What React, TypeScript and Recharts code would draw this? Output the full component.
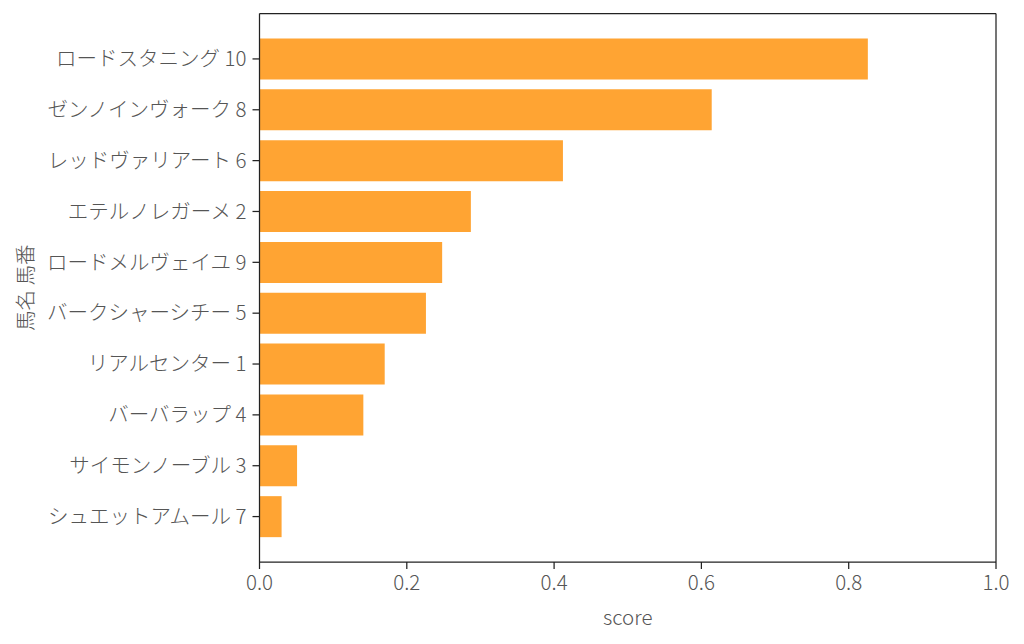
import { BarChart, Bar, XAxis, YAxis } from 'recharts';

// #region Sample data
const horseNames = [
  'ロードスタニング',
  'ゼンノインヴォーク',
  'レッドヴァリアート',
  'エテルノレガーメ',
  'ロードメルヴェイユ',
  'バークシャーシチー',
  'リアルセンター',
  'バーバラップ',
  'サイモンノーブル',
  'シュエットアムール',
];
const horseNumbers = [10, 8, 6, 2, 9, 5, 1, 4, 3, 7];
const scores = [0.826, 0.614, 0.412, 0.287, 0.248, 0.226, 0.17, 0.141, 0.051, 0.03];
const xTicks = [0, 0.2, 0.4, 0.6, 0.8, 1.0];
// #endregion

const data = horseNames.map((name, i) => ({
  label: `${name} ${horseNumbers[i]}`,
  score: scores[i],
}));

const FONT = '"Noto Sans CJK JP", "Noto Sans", sans-serif';
const tickStyle = { fill: '#555', fontSize: 20.5, fontFamily: FONT, fontWeight: 300 };
const lineStyle = { stroke: '#222', strokeWidth: 1.25 };

const YLabel = (props: any) => {
  const { viewBox } = props;
  const x = viewBox.x + 24;
  const y = viewBox.y + viewBox.height / 2;
  return (
    <text
      x={x}
      y={y}
      transform={`rotate(-90, ${x}, ${y})`}
      textAnchor="middle"
      dominantBaseline="central"
      fill="#555"
      fontSize={20.5}
      fontFamily={FONT}
      fontWeight={300}
    >
      馬名 馬番
    </text>
  );
};

export default function App() {
  return (
    <div style={{ position: 'absolute', left: 0, top: 0, background: '#fff' }}>
      <BarChart
        width={1024}
        height={644}
        data={data}
        layout="vertical"
        margin={{ top: 12.5, right: 27, left: 0, bottom: 0 }}
      >
        <XAxis
          type="number"
          dataKey="score"
          domain={[0, 1]}
          ticks={xTicks}
          tickFormatter={(v: number) => v.toFixed(1)}
          height={82}
          tick={tickStyle}
          tickSize={7}
          tickMargin={6}
          axisLine={lineStyle}
          tickLine={lineStyle}
          label={{
            value: 'score',
            position: 'insideBottom',
            offset: 19,
            fill: '#555',
            fontSize: 20.5,
            fontFamily: FONT,
            fontWeight: 300,
          }}
        />
        <XAxis
          xAxisId="top"
          orientation="top"
          type="number"
          domain={[0, 1]}
          height={1}
          tick={false}
          tickLine={false}
          axisLine={lineStyle}
        />
        <YAxis
          type="category"
          dataKey="label"
          width={259.5}
          padding={{ top: 20, bottom: 20 }}
          tick={tickStyle}
          tickSize={7}
          tickMargin={6}
          axisLine={lineStyle}
          tickLine={lineStyle}
          interval={0}
          label={{ content: <YLabel /> }}
        />
        <YAxis
          yAxisId="right"
          orientation="right"
          type="category"
          dataKey="label"
          width={1}
          tick={false}
          tickLine={false}
          axisLine={lineStyle}
        />
        <Bar dataKey="score" fill="#ffa433" barSize={41} isAnimationActive={false} />
      </BarChart>
    </div>
  );
}
